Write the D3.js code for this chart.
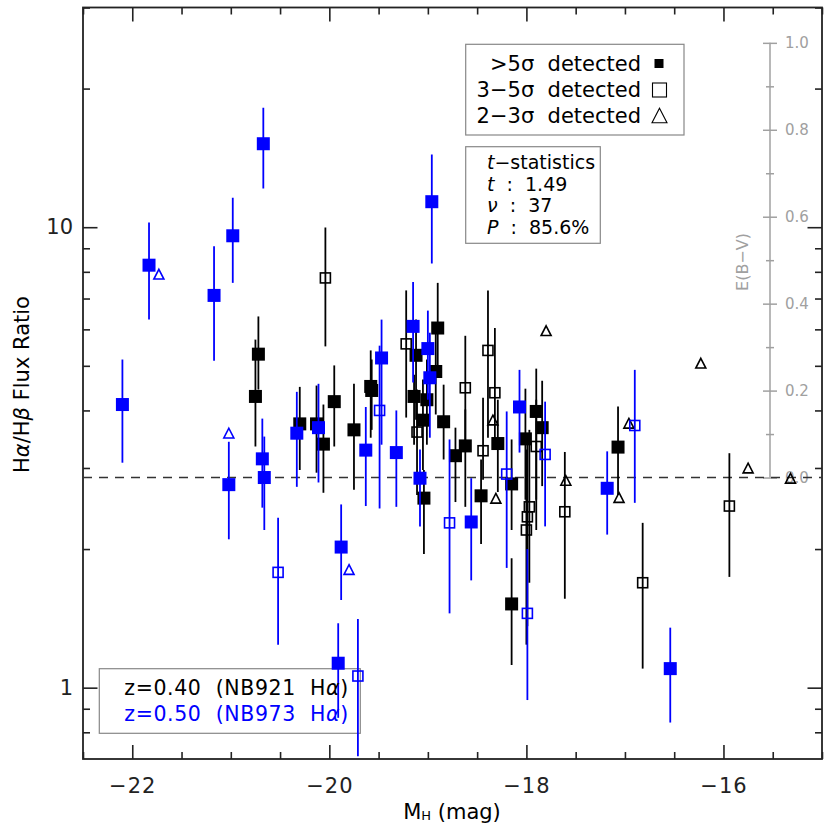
<!DOCTYPE html>
<html><head><meta charset="utf-8">
<script src="https://cdn.jsdelivr.net/npm/d3@7"></script>
<style>
body{margin:0;background:#fff}
text{font-family:"DejaVu Sans",sans-serif;white-space:pre}
</style>
</head><body>
<svg id="chart" width="830" height="830"></svg>
<script>
// ---------- axis settings ----------
const xDomain = [-22.5, -15];
const yDomain = [0.7, 30];
const xMajorTicks = [-22, -20, -18, -16];
const xMinorTicks = d3.range(-22.5, -14.9, 0.5).filter(v => !xMajorTicks.includes(v));
const yMajorTicks = [1, 10];
const yMinorTicks = [0.8, 0.9, 2, 3, 4, 5, 6, 7, 8, 9, 20, 30];
const caseB = 2.86;
const ebvMajorTicks = [0, 0.2, 0.4, 0.6, 0.8, 1.0];
const ebvMinorTicks = [0.1, 0.3, 0.5, 0.7, 0.9];
const ebvDexPerMag = 0.944;   // log10(ratio/2.86) per unit E(B-V)

// ---------- z=0.40 (NB921), black ----------
// >5 sigma
const z40Mag5   = [-20.72,-20.75,-20.30,-20.13,-20.06,-19.95,-19.75,-19.58,-19.57,-19.12,-18.90,-18.92,-19.14,-19.01,-19.05,-18.84,-19.04,-18.72,-18.62,-18.46,-18.29,-18.15,-18.15,-18.01,-17.90,-17.84,-17.07];
const z40Ratio5 = [5.30,4.29,3.74,3.74,3.38,4.18,3.63,4.51,4.42,5.27,6.04,4.86,4.29,4.22,3.81,3.78,2.58,3.19,3.35,2.61,3.39,2.77,1.52,3.47,3.98,3.67,3.33];
const z40Lo5    = [4.44,3.34,2.97,2.93,2.65,3.34,2.69,3.49,3.63,3.82,4.78,3.92,3.37,3.37,2.97,3.13,1.95,2.53,2.47,2.05,2.66,2.20,1.12,2.56,2.20,2.74,2.62];
const z40Hi5    = [6.40,5.70,4.50,4.53,4.12,5.01,4.57,5.40,5.16,6.30,7.57,5.99,4.78,5.16,4.67,4.55,2.97,3.67,4.02,3.13,4.22,3.46,1.91,4.46,4.93,4.64,4.08];
// 3-5 sigma
const z40Mag3   = [-20.04,-19.22,-19.11,-18.62,-18.39,-18.32,-18.44,-17.90,-17.97,-17.99,-18.00,-17.61,-16.82,-15.94];
const z40Ratio3 = [7.76,5.58,3.59,4.48,5.40,4.37,3.27,3.34,2.47,2.35,2.20,2.41,1.69,2.48];
const z40Lo3    = [5.51,3.86,2.62,3.37,3.49,3.46,2.83,2.56,1.69,1.36,1.24,1.56,1.10,1.74];
const z40Hi3    = [9.98,7.29,4.44,5.81,7.29,6.04,4.26,4.22,3.63,3.46,3.29,3.25,2.28,3.23];
// 2-3 sigma
const z40Mag2   = [-18.34,-18.31,-17.60,-17.06,-16.96,-15.75,-15.32,-17.80,-16.23];
const z40Ratio2 = [3.80,2.57,2.81,2.58,3.74,2.99,2.84,5.94,5.05];

// ---------- z=0.50 (NB973), blue ----------
const z50Mag5   = [-22.10,-21.83,-21.17,-20.98,-20.67,-21.02,-20.68,-20.66,-20.33,-20.11,-19.47,-19.63,-19.32,-19.15,-19.00,-18.98,-19.08,-19.88,-19.91,-18.07,-18.56,-17.18,-16.54,-18.96];
const z50Ratio5 = [4.12,8.27,7.11,9.58,15.18,2.76,3.14,2.86,3.57,3.67,5.20,3.28,3.24,6.09,5.45,4.71,2.85,2.02,1.13,4.07,2.29,2.71,1.10,11.36];
const z50Lo5    = [3.08,6.30,5.13,7.57,12.14,2.10,2.46,2.20,2.73,2.79,3.37,2.48,2.47,4.60,4.22,3.49,2.24,1.55,0.86,3.24,1.71,2.15,0.84,8.34];
const z50Hi5    = [5.16,10.24,9.09,11.59,18.18,3.42,3.84,3.51,4.39,4.57,6.30,4.07,4.00,7.60,6.59,5.90,3.29,2.50,1.38,4.90,2.85,3.26,1.35,14.39];
const z50Mag3   = [-20.52,-19.71,-19.49,-18.78,-17.99,-18.20,-17.81,-16.90];
const z50Ratio3 = [1.78,1.06,4.00,2.28,1.45,2.91,3.21,3.71];
const z50Lo3    = [1.24,0.71,2.45,1.45,0.94,1.82,2.24,2.52];
const z50Hi3    = [2.34,1.41,5.53,3.46,2.00,3.98,4.18,4.90];
const z50Mag2   = [-21.73,-21.02,-19.80];
const z50Ratio2 = [7.88,3.56,1.80];

// ---------- texts ----------
const legendRows = [">5σ  detected", "3−5σ  detected", "2−3σ  detected"];
const statRows = [["t","−statistics"],["t","  :  1.49"],["ν","  :  37"],["P","  :  85.6%"]];
const sampleRows = [["z=0.40  (NB921  H","α",")","#000"],["z=0.50  (NB973  H","α",")","#0000ff"]];

// ---------- layout ----------
const L = 83, R = 822, T = 7.5, B = 759;
const svg = d3.select("#chart");
const x = d3.scaleLinear().domain(xDomain).range([L, R]);
const y = d3.scaleLog().domain(yDomain).range([B, T]);
const ebv = d3.scaleLinear().domain([0, 1])
  .range([y(caseB), y(caseB * Math.pow(10, ebvDexPerMag))]);
const BLUE = "#0000ff", BLACK = "#000";

svg.append("defs").append("clipPath").attr("id","clip")
  .append("rect").attr("x",L).attr("y",T).attr("width",R-L).attr("height",B-T);

function styleAxis(g, color, width){
  g.select(".domain").remove();
  g.selectAll(".tick line").attr("stroke", color).attr("stroke-width", width);
  g.selectAll(".tick text").attr("fill", color);
}

// bottom axis
let g = svg.append("g").attr("transform",`translate(0,${B})`)
  .call(d3.axisBottom(x).tickValues(xMajorTicks).tickSize(-14).tickPadding(19));
styleAxis(g,"#222",1.6); g.selectAll(".tick text").attr("font-size",21).attr("font-family","DejaVu Sans").attr("letter-spacing",1);
g = svg.append("g").attr("transform",`translate(0,${B})`)
  .call(d3.axisBottom(x).tickValues(xMinorTicks).tickSize(-7).tickFormat(""));
styleAxis(g,"#222",1.6);
// top axis
g = svg.append("g").attr("transform",`translate(0,${T})`)
  .call(d3.axisTop(x).tickValues(xMajorTicks).tickSize(-14).tickFormat(""));
styleAxis(g,"#222",1.6);
g = svg.append("g").attr("transform",`translate(0,${T})`)
  .call(d3.axisTop(x).tickValues(xMinorTicks).tickSize(-7).tickFormat(""));
styleAxis(g,"#222",1.6);
// left axis
g = svg.append("g").attr("transform",`translate(${L},0)`)
  .call(d3.axisLeft(y).tickValues(yMajorTicks).tickSize(-14.5).tickPadding(10).tickFormat(d3.format("d")));
styleAxis(g,"#222",1.6); g.selectAll(".tick text").attr("font-size",21).attr("font-family","DejaVu Sans");
g = svg.append("g").attr("transform",`translate(${L},0)`)
  .call(d3.axisLeft(y).tickValues(yMinorTicks).tickSize(-7).tickFormat(""));
styleAxis(g,"#222",1.6);
// right axis
g = svg.append("g").attr("transform",`translate(${R},0)`)
  .call(d3.axisRight(y).tickValues(yMajorTicks).tickSize(-14.5).tickFormat(""));
styleAxis(g,"#222",1.6);
g = svg.append("g").attr("transform",`translate(${R},0)`)
  .call(d3.axisRight(y).tickValues(yMinorTicks).tickSize(-7).tickFormat(""));
styleAxis(g,"#222",1.6);

// frame
svg.append("rect").attr("x",L).attr("y",T).attr("width",R-L).attr("height",B-T)
  .attr("fill","none").attr("stroke","#222").attr("stroke-width",1.8);

// E(B-V) axis
const EX = 770, GRAY = "#a0a0a0";
g = svg.append("g").attr("transform",`translate(${EX},0)`)
  .call(d3.axisRight(ebv).tickValues(ebvMajorTicks).tickSize(7).tickPadding(8).tickFormat(d3.format(".1f")));
g.select(".domain").attr("stroke",GRAY).attr("stroke-width",1.5).attr("d",`M0,${ebv(0)}V${ebv(1)}`);
g.selectAll(".tick line").attr("x1",-7).attr("stroke",GRAY).attr("stroke-width",1.5);
g.selectAll(".tick text").attr("fill",GRAY).attr("font-size",15).attr("font-family","DejaVu Sans");
g = svg.append("g").attr("transform",`translate(${EX},0)`)
  .call(d3.axisRight(ebv).tickValues(ebvMinorTicks).tickSize(4).tickFormat(""));
g.select(".domain").remove();
g.selectAll(".tick line").attr("x1",-4).attr("stroke",GRAY).attr("stroke-width",1.5);
svg.append("text").attr("transform",`translate(748,262) rotate(-90)`)
  .attr("text-anchor","middle").attr("fill",GRAY).attr("font-size",16).text("E(B−V)");

// case B dashed line
svg.append("line").attr("x1",x(xDomain[0])).attr("x2",x(xDomain[1]))
  .attr("y1",y(caseB)).attr("y2",y(caseB))
  .attr("stroke","#333").attr("stroke-width",1.6).attr("stroke-dasharray","9,7");

// legend boxes (under the data)
svg.append("rect").attr("x",465.7).attr("y",44.3).attr("width",218.3).attr("height",90.7)
  .attr("fill","none").attr("stroke","#888").attr("stroke-width",1.2);
svg.append("rect").attr("x",465.7).attr("y",146.7).attr("width",134.6).attr("height",96.6)
  .attr("fill","none").attr("stroke","#888").attr("stroke-width",1.2);
svg.append("rect").attr("x",99.3).attr("y",668.7).attr("width",261).attr("height",64.6)
  .attr("fill","none").attr("stroke","#888").attr("stroke-width",1.2);

// data
const plot = svg.append("g").attr("clip-path","url(#clip)");
function zip(m, r, lo, hi){ return m.map((v,i)=>({m:v, r:r[i], lo:lo?lo[i]:null, hi:hi?hi[i]:null})); }
function errBars(data, color){
  plot.append("g").selectAll("line").data(data).join("line")
    .attr("x1",d=>x(d.m)).attr("x2",d=>x(d.m))
    .attr("y1",d=>y(Math.max(d.lo,yDomain[0]))).attr("y2",d=>y(d.hi))
    .attr("stroke",color).attr("stroke-width",1.8);
}
function filled(data, color, s){
  plot.append("g").selectAll("rect").data(data).join("rect")
    .attr("x",d=>x(d.m)-s/2).attr("y",d=>y(d.r)-s/2).attr("width",s).attr("height",s)
    .attr("fill",color);
}
function open(data, color, s){
  plot.append("g").selectAll("rect").data(data).join("rect")
    .attr("x",d=>x(d.m)-s/2).attr("y",d=>y(d.r)-s/2).attr("width",s).attr("height",s)
    .attr("fill","none").attr("stroke",color).attr("stroke-width",1.6);
}
const triPath = s => `M0,${-s*0.55}L${s/2},${s*0.42}L${-s/2},${s*0.42}Z`;
function tris(data, color, s){
  plot.append("g").selectAll("path").data(data).join("path")
    .attr("transform",d=>`translate(${x(d.m)},${y(d.r)})`)
    .attr("d",triPath(s)).attr("fill","none").attr("stroke",color).attr("stroke-width",1.6);
}
const k5 = zip(z40Mag5,z40Ratio5,z40Lo5,z40Hi5), k3 = zip(z40Mag3,z40Ratio3,z40Lo3,z40Hi3), k2 = zip(z40Mag2,z40Ratio2);
const b5 = zip(z50Mag5,z50Ratio5,z50Lo5,z50Hi5), b3 = zip(z50Mag3,z50Ratio3,z50Lo3,z50Hi3), b2 = zip(z50Mag2,z50Ratio2);
errBars(k5,BLACK); errBars(k3,BLACK);
filled(k5,BLACK,13); open(k3,BLACK,10); tris(k2,BLACK,10);
errBars(b5,BLUE); errBars(b3,BLUE);
filled(b5,BLUE,13); open(b3,BLUE,10); tris(b2,BLUE,10);

// legend 1 texts & symbols
const legY = [70.7, 97.3, 123.3];
legendRows.forEach((t,i)=>{
  svg.append("text").attr("x",641).attr("y",legY[i]).attr("text-anchor","end")
    .attr("font-size",21).attr("fill","#000").text(t);
});
svg.append("rect").attr("x",654.5).attr("y",59).attr("width",9).attr("height",9).attr("fill","#000");
svg.append("rect").attr("x",652.5).attr("y",83).attr("width",14).attr("height",14)
  .attr("fill","none").attr("stroke","#000").attr("stroke-width",1.1);
svg.append("path").attr("transform","translate(659.5,116.5)").attr("d",triPath(15))
  .attr("fill","none").attr("stroke","#000").attr("stroke-width",1.1);

// legend 2 texts
const statY = [169, 190.7, 212.3, 234];
statRows.forEach((r,i)=>{
  const t = svg.append("text").attr("x",487).attr("y",statY[i]).attr("font-size",19).attr("fill","#000");
  t.append("tspan").attr("font-style","italic").text(r[0]);
  t.append("tspan").text(r[1]);
});

// legend 3 texts
const sampY = [695, 720.7];
sampleRows.forEach((r,i)=>{
  const t = svg.append("text").attr("x",124.3).attr("y",sampY[i]).attr("font-size",20.5)
    .attr("letter-spacing",0.6).attr("fill",r[3]);
  t.append("tspan").text(r[0]);
  t.append("tspan").attr("font-style","italic").text(r[1]);
  t.append("tspan").text(r[2]);
});

// axis titles
const xt = svg.append("text").attr("x",452).attr("y",819).attr("text-anchor","middle").attr("font-size",21).attr("fill","#000");
xt.append("tspan").text("M");
xt.append("tspan").attr("font-size",13).attr("dy",1).text("H");
xt.append("tspan").attr("dy",-1).text(" (mag)");
const yt = svg.append("text").attr("transform","translate(28.5,384.5) rotate(-90)")
  .attr("text-anchor","middle").attr("font-size",21).attr("fill","#000");
yt.append("tspan").text("H");
yt.append("tspan").attr("font-style","italic").text("α");
yt.append("tspan").text("/H");
yt.append("tspan").attr("font-style","italic").text("β");
yt.append("tspan").text(" Flux Ratio");
</script>
</body></html>
